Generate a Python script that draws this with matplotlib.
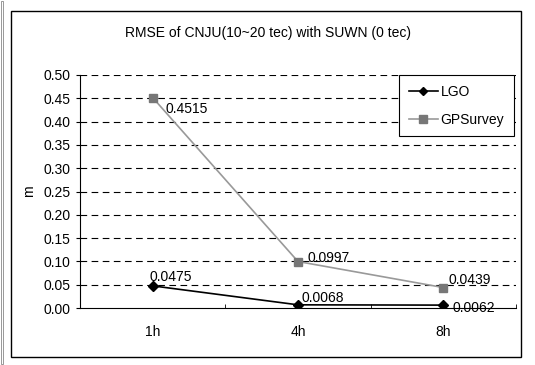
import matplotlib.pyplot as plt
from matplotlib.patches import Rectangle

plt.rcParams['font.family'] = ['Liberation Sans', 'DejaVu Sans']
fs = 10

categories = ['1h', '4h', '8h']
lgo = [0.0475, 0.0068, 0.0062]
gpsurvey = [0.4515, 0.0997, 0.0439]
lgo_labels = ['0.0475', '0.0068', '0.0062']
gps_labels = ['0.4515', '0.0997', '0.0439']

fig = plt.figure(figsize=(5.35, 3.65), dpi=100)
ax = fig.add_axes([80 / 535, 1 - 308 / 365, 436 / 535, 233 / 365])

# chart area border
fig.patches.append(Rectangle((11 / 535, 1 - 357 / 365), 510 / 535, 346 / 365,
                             transform=fig.transFigure, fill=False,
                             edgecolor='black', linewidth=1))
fig.patches.append(Rectangle((0.5 / 535, 1 - 364 / 365), 3 / 535, 363 / 365,
                             transform=fig.transFigure, fill=False,
                             edgecolor='#888888', linewidth=0.6))

x = list(range(len(categories)))
ax.plot(x, lgo, color='black', marker='D', markersize=5, linewidth=1.2, label='LGO')
ax.plot(x, gpsurvey, color='#999999', marker='s', markersize=6,
        markerfacecolor='#777777', markeredgecolor='#777777', linewidth=1.2,
        label='GPSurvey')

lgo_off = [(-3, 9), (3, 7), (9, -3)]
gps_off = [(13, -11), (9, 4), (5, 8)]
for i in x:
    ax.annotate(lgo_labels[i], (i, lgo[i]), textcoords='offset pixels',
                xytext=lgo_off[i], fontsize=fs, va='center', ha='left')
    ax.annotate(gps_labels[i], (i, gpsurvey[i]), textcoords='offset pixels',
                xytext=gps_off[i], fontsize=fs, va='center', ha='left')

ax.set_xlim(-0.5, 2.5)
ax.set_ylim(0, 0.5)
ax.set_yticks([i * 0.05 for i in range(11)])
ax.set_yticklabels(['%.2f' % (i * 0.05) for i in range(11)], fontsize=fs)
ax.set_xticks(x)
ax.set_xticklabels(categories, fontsize=fs)
ax.set_xticks([-0.5, 0.5, 1.5, 2.5], minor=True)
ax.tick_params(axis='x', which='major', length=0, pad=12)
ax.tick_params(axis='x', which='minor', length=3, direction='in')
ax.tick_params(axis='y', length=3, direction='out', pad=4)

for yv in [i * 0.05 for i in range(1, 11)]:
    ax.axhline(yv, color='black', linestyle=(0, (6, 4)), linewidth=0.8, zorder=0)

ax.spines['top'].set_visible(False)
ax.spines['right'].set_visible(False)
ax.set_ylabel('m', fontsize=fs, labelpad=5)

leg = ax.legend(loc='upper right', bbox_to_anchor=(0.995, 1.0), fontsize=fs,
                fancybox=False, edgecolor='black', framealpha=1,
                handlelength=2.1, handletextpad=0.2, borderaxespad=0.0,
                labelspacing=1.0, borderpad=0.7, markerscale=0.9)
leg.get_frame().set_linewidth(0.8)

fig.text(268 / 535, 1 - 33 / 365, 'RMSE of CNJU(10~20 tec) with SUWN (0 tec)',
         ha='center', va='center', fontsize=fs)

fig.savefig('out.png', dpi=100)
